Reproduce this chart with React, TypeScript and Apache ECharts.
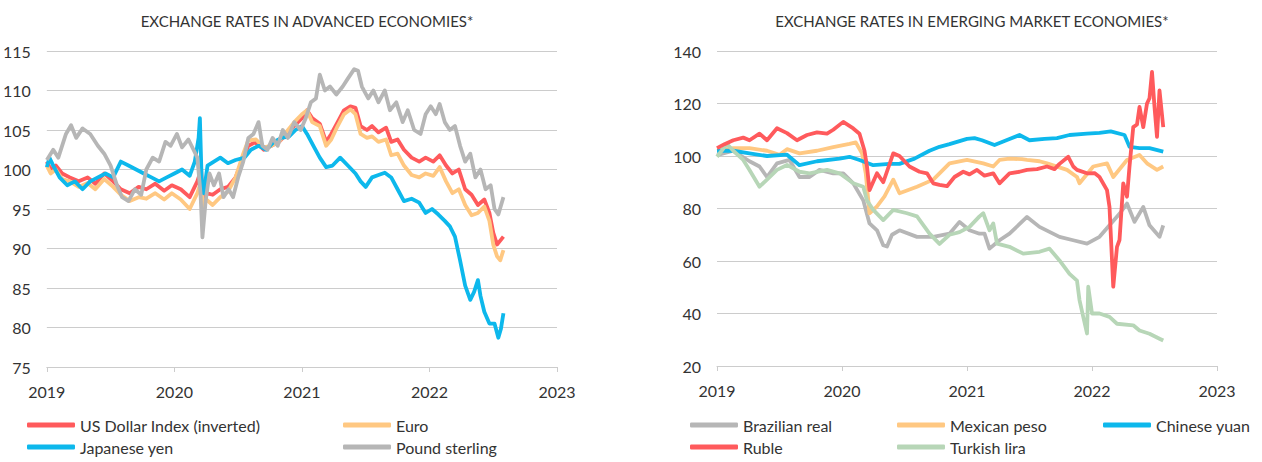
import React, { useEffect, useRef } from "react";
import * as echarts from "echarts";

// ---------- Advanced economies (index, [year, value]) ----------
const usdIndex: [number, number][] = [
  [2019.0, 101], [2019.03, 100], [2019.07, 100.5], [2019.12, 99.5], [2019.18, 99], [2019.25, 98.5],
  [2019.32, 99], [2019.38, 98.2], [2019.45, 99.5], [2019.52, 98.5], [2019.58, 97.5], [2019.65, 97],
  [2019.72, 97.8], [2019.78, 97.5], [2019.85, 98.2], [2019.92, 97.3], [2019.98, 98], [2020.05, 97.5],
  [2020.12, 96.5], [2020.18, 98.5], [2020.21, 100], [2020.225, 95.5], [2020.25, 97], [2020.3, 96.8],
  [2020.36, 97.5], [2020.42, 97.8], [2020.48, 99], [2020.54, 101.5], [2020.58, 103], [2020.64, 103.5],
  [2020.7, 102.5], [2020.76, 103], [2020.82, 103.5], [2020.88, 104.5], [2020.94, 105.5], [2021.0, 106.5],
  [2021.04, 107.5], [2021.08, 106.5], [2021.14, 105.8], [2021.19, 103.5], [2021.23, 104.5], [2021.28, 106],
  [2021.33, 107.5], [2021.38, 108], [2021.42, 107.8], [2021.46, 105.5], [2021.51, 105], [2021.55, 105.5],
  [2021.6, 104.7], [2021.66, 105.3], [2021.7, 103.5], [2021.75, 103.8], [2021.8, 102.5], [2021.86, 101.5],
  [2021.92, 101], [2021.97, 101.5], [2022.03, 101], [2022.08, 101.8], [2022.13, 100.5], [2022.18, 99.5],
  [2022.23, 100], [2022.28, 97.5], [2022.33, 96.8], [2022.38, 95.5], [2022.43, 96.2], [2022.47, 94.5],
  [2022.5, 92], [2022.53, 90.5], [2022.555, 91], [2022.58, 91.5],
];
const euro: [number, number][] = [
  [2019.0, 100.5], [2019.03, 99.5], [2019.07, 100], [2019.12, 98.8], [2019.18, 98.5], [2019.25, 97.8],
  [2019.32, 98.3], [2019.38, 97.5], [2019.45, 98.8], [2019.52, 97.8], [2019.58, 96.8], [2019.65, 96],
  [2019.72, 96.5], [2019.78, 96.3], [2019.85, 97], [2019.92, 96.2], [2019.98, 97], [2020.05, 96.2],
  [2020.12, 95], [2020.18, 97], [2020.21, 98.5], [2020.225, 95.2], [2020.25, 96.2], [2020.3, 95.5],
  [2020.36, 96.5], [2020.42, 97.2], [2020.48, 99], [2020.54, 102], [2020.58, 103.7], [2020.64, 103.8],
  [2020.7, 102.8], [2020.76, 103], [2020.82, 103.5], [2020.88, 104.8], [2020.94, 106], [2021.0, 107],
  [2021.04, 107.5], [2021.08, 106], [2021.14, 105.5], [2021.19, 103], [2021.23, 103.8], [2021.28, 105.5],
  [2021.33, 107], [2021.38, 107.6], [2021.42, 107], [2021.46, 104.5], [2021.51, 104], [2021.55, 104.2],
  [2021.6, 103.5], [2021.66, 103.8], [2021.7, 101.8], [2021.75, 102], [2021.8, 100.5], [2021.86, 99.3],
  [2021.92, 99], [2021.97, 99.5], [2022.03, 99.2], [2022.08, 100.3], [2022.13, 98.5], [2022.18, 97],
  [2022.23, 97.5], [2022.28, 95.5], [2022.33, 94.2], [2022.38, 94.5], [2022.43, 95.3], [2022.47, 93.5],
  [2022.5, 90.5], [2022.53, 89], [2022.555, 88.5], [2022.58, 89.8],
];
const yen: [number, number][] = [
  [2019.0, 100.3], [2019.02, 101.5], [2019.05, 100.5], [2019.1, 99], [2019.16, 98], [2019.22, 98.5],
  [2019.28, 97.5], [2019.34, 98.5], [2019.4, 99], [2019.46, 99.5], [2019.52, 99], [2019.58, 101],
  [2019.64, 100.5], [2019.7, 100], [2019.76, 99.5], [2019.82, 99], [2019.88, 98.5], [2019.94, 99],
  [2020.0, 99.5], [2020.06, 100], [2020.12, 99.2], [2020.16, 101], [2020.19, 104], [2020.2, 106.5],
  [2020.215, 98], [2020.23, 97], [2020.26, 100.5], [2020.31, 101], [2020.36, 101.5], [2020.42, 100.8],
  [2020.48, 101.2], [2020.55, 101.5], [2020.6, 102.5], [2020.66, 103], [2020.72, 102.5], [2020.78, 103.5],
  [2020.84, 104], [2020.9, 104.2], [2020.95, 105], [2021.0, 105.5], [2021.04, 104.5], [2021.09, 103],
  [2021.14, 101.5], [2021.19, 100.3], [2021.24, 100.5], [2021.3, 101.5], [2021.36, 100.5], [2021.42, 99.5],
  [2021.46, 98.5], [2021.5, 97.8], [2021.55, 99], [2021.6, 99.3], [2021.65, 99.6], [2021.7, 99],
  [2021.75, 97.5], [2021.8, 96], [2021.86, 96.3], [2021.92, 95.8], [2021.97, 94.5], [2022.02, 95],
  [2022.07, 94.3], [2022.12, 93.5], [2022.16, 92.8], [2022.2, 91.5], [2022.24, 88.5], [2022.28, 85.3],
  [2022.32, 83.5], [2022.35, 84.5], [2022.38, 86], [2022.4, 84], [2022.43, 82], [2022.47, 80.5],
  [2022.51, 80.5], [2022.54, 78.7], [2022.56, 79.8], [2022.58, 81.8],
];
const pound: [number, number][] = [
  [2019.0, 101.2], [2019.05, 102.5], [2019.09, 101.5], [2019.15, 104.5], [2019.19, 105.6], [2019.23, 104],
  [2019.28, 105.2], [2019.34, 104.5], [2019.4, 103], [2019.45, 102], [2019.5, 100.5], [2019.55, 98],
  [2019.59, 96.5], [2019.64, 96], [2019.69, 97.5], [2019.74, 96.8], [2019.78, 100], [2019.83, 101.5],
  [2019.88, 101], [2019.93, 103.5], [2019.97, 103], [2020.02, 104.5], [2020.06, 102.8], [2020.11, 103.8],
  [2020.15, 102.5], [2020.18, 101.5], [2020.205, 97], [2020.22, 91.4], [2020.245, 96], [2020.275, 99.5],
  [2020.31, 98], [2020.35, 99.5], [2020.385, 96.5], [2020.425, 97.5], [2020.46, 96.5], [2020.5, 99],
  [2020.54, 101], [2020.58, 104], [2020.62, 104.5], [2020.66, 106], [2020.69, 103], [2020.73, 102.5],
  [2020.77, 104], [2020.81, 103], [2020.85, 105], [2020.89, 104], [2020.94, 106], [2020.99, 105],
  [2021.03, 106.5], [2021.07, 108.5], [2021.11, 109], [2021.14, 112], [2021.18, 110], [2021.22, 110.5],
  [2021.27, 109.5], [2021.32, 110.5], [2021.36, 111.5], [2021.41, 112.7], [2021.44, 112.5], [2021.47, 110.5],
  [2021.52, 109], [2021.56, 110], [2021.6, 108.5], [2021.65, 110], [2021.69, 107.5], [2021.74, 108.5],
  [2021.79, 106], [2021.83, 107.5], [2021.88, 105], [2021.93, 104.5], [2021.97, 107], [2022.01, 108],
  [2022.05, 107], [2022.08, 108.3], [2022.12, 106], [2022.16, 105], [2022.2, 105.5], [2022.24, 103],
  [2022.28, 101], [2022.32, 102], [2022.36, 99], [2022.4, 100], [2022.44, 97.5], [2022.48, 98],
  [2022.51, 95], [2022.54, 94.3], [2022.58, 96.5],
];

// ---------- Emerging market economies ----------
const brazilianReal: [number, number][] = [
  [2019.0, 100.3], [2019.13, 102], [2019.26, 98], [2019.34, 96], [2019.4, 92], [2019.48, 97.2],
  [2019.58, 98.5], [2019.66, 92], [2019.74, 92], [2019.82, 94.7], [2019.93, 93.4], [2020.01, 93.4],
  [2020.09, 89.6], [2020.17, 83.1], [2020.22, 74.3], [2020.28, 71.7], [2020.33, 66], [2020.36, 65.5],
  [2020.4, 70], [2020.46, 71.7], [2020.6, 69.2], [2020.73, 69.2], [2020.86, 70.4], [2020.94, 74.9],
  [2021.02, 71.7], [2021.1, 70.4], [2021.14, 70.4], [2021.18, 64.7], [2021.26, 67.9], [2021.34, 70.4],
  [2021.48, 76.8], [2021.58, 73], [2021.74, 69.2], [2021.85, 67.9], [2021.96, 66.6], [2022.06, 69.2],
  [2022.14, 73.6], [2022.22, 78], [2022.28, 81.9], [2022.34, 74.9], [2022.41, 80.6], [2022.46, 73.6],
  [2022.54, 69.2], [2022.57, 73.6],
];
const mexicanPeso: [number, number][] = [
  [2019.0, 102], [2019.13, 103], [2019.26, 103], [2019.4, 102], [2019.5, 100.5], [2019.56, 102.6],
  [2019.66, 101], [2019.8, 102], [2019.93, 103.4], [2020.06, 104.6], [2020.11, 105.2], [2020.16, 101],
  [2020.19, 93.4], [2020.22, 78.2], [2020.28, 80.8], [2020.34, 84.6], [2020.41, 91], [2020.46, 85.8],
  [2020.6, 88.3], [2020.73, 91], [2020.86, 97.2], [2021.0, 98.5], [2021.13, 97.2], [2021.21, 96],
  [2021.26, 98.5], [2021.34, 99], [2021.44, 98.8], [2021.48, 98.5], [2021.58, 98], [2021.64, 97.2],
  [2021.8, 94.7], [2021.88, 92], [2021.9, 89.6], [2022.01, 96], [2022.12, 97.2], [2022.17, 92],
  [2022.28, 98.5], [2022.38, 100.4], [2022.44, 97.2], [2022.52, 94.7], [2022.57, 96],
];
const chineseYuan: [number, number][] = [
  [2019.0, 102], [2019.13, 102], [2019.26, 101], [2019.4, 100], [2019.56, 100.5], [2019.66, 96.5],
  [2019.8, 98], [2019.98, 99], [2020.06, 99.7], [2020.14, 98.5], [2020.25, 96.5], [2020.38, 97],
  [2020.46, 97], [2020.58, 99], [2020.7, 102], [2020.78, 103.5], [2020.86, 104.5], [2021.0, 106.5],
  [2021.06, 106.8], [2021.12, 106], [2021.22, 104.2], [2021.34, 106.5], [2021.42, 108], [2021.5, 106],
  [2021.62, 106.5], [2021.72, 106.8], [2021.82, 108], [2021.96, 108.5], [2022.06, 108.8], [2022.15, 109.4],
  [2022.26, 108], [2022.3, 103.5], [2022.38, 103], [2022.46, 103], [2022.57, 101.7],
];
const ruble: [number, number][] = [
  [2019.0, 103], [2019.06, 104.5], [2019.13, 106], [2019.21, 107], [2019.26, 106], [2019.34, 108.5],
  [2019.4, 106], [2019.48, 110.6], [2019.56, 108.7], [2019.64, 106], [2019.72, 108], [2019.8, 109],
  [2019.88, 108.5], [2019.93, 110], [2020.01, 113], [2020.09, 110.5], [2020.14, 108.5], [2020.18, 102],
  [2020.2, 96], [2020.22, 87], [2020.28, 93.4], [2020.33, 90], [2020.41, 101], [2020.46, 100],
  [2020.54, 96], [2020.62, 94], [2020.68, 93.4], [2020.73, 89.6], [2020.78, 89], [2020.84, 88.5],
  [2020.9, 92], [2020.97, 94], [2021.02, 93], [2021.08, 94.7], [2021.14, 92.5], [2021.21, 93.4],
  [2021.26, 89.6], [2021.34, 93.4], [2021.42, 94], [2021.48, 94.7], [2021.56, 95], [2021.64, 96],
  [2021.7, 95], [2021.74, 97], [2021.81, 99.7], [2021.85, 96], [2021.88, 94.7], [2021.96, 93.4],
  [2022.02, 93.5], [2022.06, 92], [2022.12, 87], [2022.14, 80.6], [2022.17, 50.2], [2022.2, 65.4],
  [2022.22, 68], [2022.25, 89.6], [2022.28, 84.5], [2022.3, 96], [2022.33, 111], [2022.36, 112],
  [2022.38, 118.7], [2022.41, 111], [2022.44, 120], [2022.46, 122], [2022.48, 132], [2022.5, 118.7],
  [2022.52, 107.3], [2022.54, 125], [2022.57, 111],
];
const turkishLira: [number, number][] = [
  [2019.0, 99.7], [2019.08, 104.6], [2019.13, 102], [2019.21, 98.5], [2019.26, 94.7], [2019.34, 88.3],
  [2019.4, 91], [2019.48, 94.7], [2019.56, 96.6], [2019.66, 94], [2019.74, 93.4], [2019.88, 94.7],
  [2019.98, 93.4], [2020.09, 89.6], [2020.17, 88.3], [2020.2, 83], [2020.25, 79.5], [2020.33, 75.6],
  [2020.41, 79.5], [2020.52, 78.2], [2020.6, 77], [2020.7, 70.4], [2020.78, 66.5], [2020.86, 70],
  [2020.94, 71], [2021.02, 73], [2021.1, 77], [2021.13, 78.2], [2021.18, 71.7], [2021.21, 74.3],
  [2021.24, 66.6], [2021.34, 65.4], [2021.45, 62.8], [2021.58, 63.5], [2021.66, 64.7], [2021.74, 60.2],
  [2021.82, 55.1], [2021.88, 52.5], [2021.9, 45.1], [2021.93, 38.7], [2021.96, 32.4], [2021.97, 50.2],
  [2022.0, 40], [2022.06, 40], [2022.14, 38.7], [2022.2, 36.1], [2022.33, 35.5], [2022.38, 33.5],
  [2022.46, 32.3], [2022.54, 30.4], [2022.57, 29.7],
];

const leftTitle = "EXCHANGE RATES IN ADVANCED ECONOMIES*";
const rightTitle = "EXCHANGE RATES IN EMERGING MARKET ECONOMIES*";

const RED = "#FF5A5C";
const ORANGE = "#FFC882";
const BLUE = "#0DB8EC";
const GRAY = "#B6B6B6";
const GREEN = "#B7D6B7";

const FONT = "Lato, 'Noto Sans', sans-serif";
const TXT = "#333333";

export default function App() {
  const ref = useRef<HTMLDivElement>(null);
  useEffect(() => {
    document.body.style.margin = "0";
    if (!ref.current) return;
    const chart = echarts.init(ref.current, undefined, { renderer: "svg" });

    const xAxisBase = (gridIndex: number) => ({
      type: "value",
      gridIndex,
      min: 2019,
      max: 2023,
      interval: 1,
      splitLine: { show: false },
      axisLine: { show: true, lineStyle: { color: "#cccccc", width: 1 } },
      axisTick: { show: true, length: 5, lineStyle: { color: "#cccccc" } },
      axisLabel: { color: TXT, fontSize: 16, fontFamily: FONT, margin: 16, formatter: (v: number) => String(v) },
    });
    const yAxisBase = (gridIndex: number, min: number, max: number, interval: number) => ({
      type: "value",
      gridIndex,
      min,
      max,
      interval,
      axisLine: { show: false },
      axisTick: { show: false },
      splitLine: { show: true, lineStyle: { color: "#cccccc", width: 1 } },
      axisLabel: { color: TXT, fontSize: 16, fontFamily: FONT, margin: 16 },
    });
    const line = (name: string, data: [number, number][], color: string, idx: number, z: number) => ({
      name,
      type: "line",
      data,
      xAxisIndex: idx,
      yAxisIndex: idx,
      showSymbol: false,
      symbol: "none",
      z,
      lineStyle: { color, width: 3.8, join: "round" },
      itemStyle: { color },
    });
    const leg = (name: string, left: number, top: number) => ({
      data: [name],
      left,
      top,
      padding: 0,
      itemWidth: 48,
      itemHeight: 5,
      icon: "roundRect",
      textStyle: { color: TXT, fontSize: 16, fontFamily: FONT },
      selectedMode: false,
    });

    chart.setOption({
      animation: false,
      title: [
        { text: leftTitle, left: 302, top: 8, textAlign: "center", textStyle: { color: TXT, fontSize: 15, fontWeight: "normal", fontFamily: FONT } },
        { text: rightTitle, left: 967, top: 8, textAlign: "center", textStyle: { color: TXT, fontSize: 15, fontWeight: "normal", fontFamily: FONT } },
      ],
      grid: [
        { left: 46, right: 1262 - 557, top: 51, bottom: 462 - 367 },
        { left: 717, right: 1262 - 1217, top: 51, bottom: 462 - 366 },
      ],
      xAxis: [xAxisBase(0), xAxisBase(1)],
      yAxis: [yAxisBase(0, 75, 115, 5), yAxisBase(1, 20, 140, 20)],
      legend: [
        leg("US Dollar Index (inverted)", 27, 417),
        leg("Euro", 343, 417),
        leg("Japanese yen", 27, 439),
        leg("Pound sterling", 343, 439),
        leg("Brazilian real", 690, 417),
        leg("Mexican peso", 897, 417),
        leg("Chinese yuan", 1103, 417),
        leg("Ruble", 690, 439),
        leg("Turkish lira", 897, 439),
      ],
      series: [
        line("US Dollar Index (inverted)", usdIndex, RED, 0, 2),
        line("Euro", euro, ORANGE, 0, 3),
        line("Japanese yen", yen, BLUE, 0, 4),
        line("Pound sterling", pound, GRAY, 0, 5),
        line("Brazilian real", brazilianReal, GRAY, 1, 2),
        line("Mexican peso", mexicanPeso, ORANGE, 1, 3),
        line("Chinese yuan", chineseYuan, BLUE, 1, 4),
        line("Turkish lira", turkishLira, GREEN, 1, 5),
        line("Ruble", ruble, RED, 1, 6),
      ],
    });
    return () => chart.dispose();
  }, []);
  return <div ref={ref} style={{ width: 1262, height: 462 }} />;
}
